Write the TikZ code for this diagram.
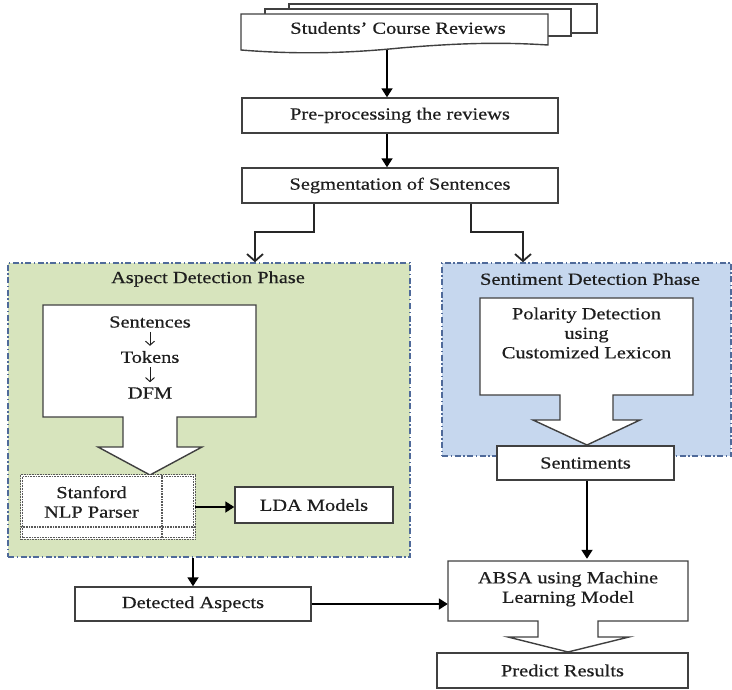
\documentclass[tikz,border=0pt]{standalone}
\usepackage{fontspec}
\setmainfont{Liberation Serif}[FakeStretch=1.2,FakeBold=0.5]
\usetikzlibrary{arrows.meta}
\definecolor{aspfill}{HTML}{D7E4BD}
\definecolor{sentfill}{HTML}{C6D7EE}
\definecolor{phaseline}{HTML}{4F6A9A}
\definecolor{boxline}{HTML}{404040}
\definecolor{txt}{HTML}{1E1E1E}
\begin{document}
\begin{tikzpicture}[x=1pt,y=-1pt,
  every node/.style={font=\fontsize{17}{19.5}\selectfont, text=txt, align=center},
  box/.style={draw=boxline, line width=1.4pt, fill=white, inner sep=0pt},
  ghost/.style={inner sep=0pt},
  phase/.style={draw=phaseline, line width=1.5pt, inner sep=0pt,
    dash pattern=on 6pt off 2.5pt on 1.5pt off 2.5pt},
  blockarrow/.style={draw=boxline, line width=1.4pt, fill=white, line join=miter},
  docline/.style={draw=boxline, line width=1.4pt, fill=white},
  tbl/.style={draw=gray!70!black, line width=0.7pt, dash pattern=on 1pt off 0.6pt},
  arr/.style={draw=black, line width=1.8pt, -{Triangle[length=9pt,width=11pt]}},
  barb/.style={draw=black!85, line width=1.8pt, -{Straight Barb[length=7pt,width=16pt]}},
  smallarr/.style={draw=txt, line width=1pt, -{Straight Barb[length=4pt,width=9pt]}, shorten <=4pt, shorten >=5pt}
]
\useasboundingbox (0,0) rectangle (732,690);

% ---- document stack ----
\draw[docline] (289,4) rectangle (597,33);
\draw[docline] (265,9) rectangle (571,36);
\draw[docline] (241,14) -- (548,14) -- (548,45)
  .. controls (500,42) and (460,43) .. (400,48)
  .. controls (340,54) and (290,54) .. (241,50) -- cycle;
\node[ghost] (doc) at (398,28) {Students’ Course Reviews};
\coordinate (docb) at (387,50);

% ---- top boxes ----
\node[box, minimum width=316pt, minimum height=35pt] (pre) at (400,115.5) {Pre-processing the reviews};
\node[box, minimum width=316pt, minimum height=35pt] (seg) at (400,185.5) {Segmentation of Sentences};

\draw[arr] (docb) -- (docb |- pre.north);
\draw[arr] (pre.south -| docb) -- (seg.north -| docb);

% ---- phase boxes ----
\node[phase, fill=aspfill, minimum width=402pt, minimum height=294pt] (asp) at (209,410) {};
\node[phase, fill=sentfill, minimum width=289pt, minimum height=193pt] (sent) at (586.5,359.5) {};
\node[ghost] (asptitle) at (208,279) {Aspect Detection Phase};
\node[ghost] (senttitle) at (590,279) {Sentiment Detection Phase};

% branch arrows
\coordinate (sl) at (314,0);
\coordinate (sr) at (471,0);
\coordinate (al) at (255,0);
\coordinate (ar) at (523,0);
\coordinate (bend) at (0,232);
\draw[barb] (seg.south -| sl) |- (al |- bend) -- (al |- asp.north);
\draw[barb] (seg.south -| sr) |- (ar |- bend) -- (ar |- sent.north);

% ---- aspect phase content ----
\draw[blockarrow] (43,305) -- (256,305) -- (256,417) -- (177,417) -- (177,447)
  -- (202,447) -- (150,475) -- (98,447) -- (123,447) -- (123,417) -- (43,417) -- cycle;
\node[ghost] (sen) at (150,322) {Sentences};
\node[ghost] (tok) at (150,357) {Tokens};
\node[ghost] (dfm) at (150,393) {DFM};
\draw[smallarr] (sen) -- (tok);
\draw[smallarr] (tok) -- (dfm);

\node[ghost, fill=white, minimum width=174pt, minimum height=64pt] (stan) at (108,507) {};
\draw[tbl] (stan.north west) rectangle (stan.south east);
\draw[tbl] (22.5,476.5) rectangle (193.5,537.5);
\draw[tbl] (161.2,475) -- (161.2,539);
\draw[tbl] (162.8,475) -- (162.8,539);
\draw[tbl] (21,526.2) -- (195,526.2);
\draw[tbl] (21,527.8) -- (195,527.8);
\node[ghost] (stantext) at (91.5,502) {Stanford\\NLP Parser};

\node[box, minimum width=158pt, minimum height=36pt] (lda) at (314,505) {LDA Models};
\draw[arr] (stan.east) -- (stan.east -| lda.west);

% ---- sentiment phase content ----
\draw[blockarrow] (480,298) -- (693,298) -- (693,395) -- (613,395) -- (613,420)
  -- (640,420) -- (587,445) -- (533,420) -- (560,420) -- (560,395) -- (480,395) -- cycle;
\node[ghost] (pol) at (586.5,333) {Polarity Detection\\using\\Customized Lexicon};
\node[box, minimum width=177pt, minimum height=34pt] (senti) at (585.5,463) {Sentiments};

% ---- bottom ----
\node[box, minimum width=236pt, minimum height=34pt] (det) at (193,604) {Detected Aspects};
\draw[arr] (asp.south -| det) -- (det.north);

\draw[blockarrow] (448,561) -- (688,561) -- (688,621) -- (598,621) -- (598,637)
  -- (629,637) -- (568,652) -- (508,637) -- (538,637) -- (538,621) -- (448,621) -- cycle;
\node[ghost, minimum width=240pt, minimum height=60pt] (absa) at (568,589) {ABSA using Machine\\Learning Model};
\node[box, minimum width=251pt, minimum height=35pt] (pred) at (562.5,670.5) {Predict Results};

\draw[arr] (det.east) -- (det.east -| absa.west);
\draw[arr] (senti.south -| 587,0) -- (absa.north -| 587,0);
\end{tikzpicture}
\end{document}
